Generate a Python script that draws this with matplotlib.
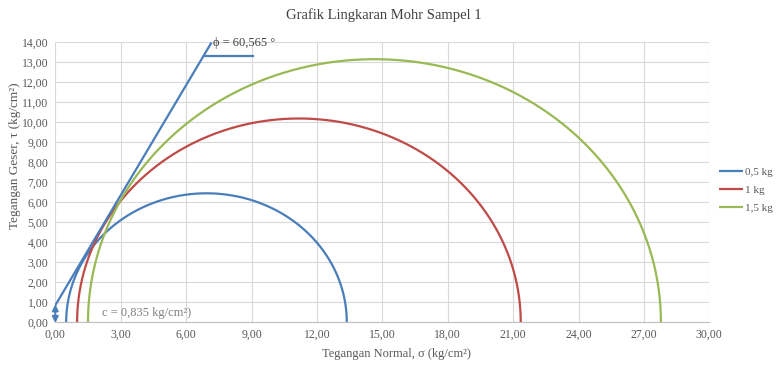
import numpy as np
import matplotlib
matplotlib.use("Agg")
import matplotlib.pyplot as plt
from matplotlib.ticker import FuncFormatter

# ---- data ----
labels = ["0,5 kg", "1 kg", "1,5 kg"]
sigma3 = [0.5, 1.0, 1.5]
sigma1 = [13.37, 21.35, 27.78]
colors = ["#4A7EBB", "#BE4B48", "#98B954"]
cohesion = 0.835
envelope_x = [0.0, 7.14]
envelope_y = [0.835, 13.93]
angle_x = [6.80, 9.06]
angle_y = [13.3, 13.3]
phi_text = "ϕ = 60,565 °"
c_text = "c = 0,835 kg/cm²)"
xticks = np.arange(0, 31, 3)
yticks = np.arange(0, 15, 1)

W, H = 780, 365
fig = plt.figure(figsize=(W / 100, H / 100), dpi=100)
plt.rcParams['font.family'] = ['Liberation Serif', 'DejaVu Serif']

x0, x1 = 55.3, 709.3
y0, y1 = 322, 42
ax = fig.add_axes([x0 / W, 1 - y0 / H, (x1 - x0) / W, (y0 - y1) / H])

t = np.linspace(0, np.pi, 400)
for s3, s1, col, lab in zip(sigma3, sigma1, colors, labels):
    c = (s1 + s3) / 2
    r = (s1 - s3) / 2
    ax.plot(c + r * np.cos(t), r * np.sin(t), color=col, lw=1.6, label=lab,
            solid_capstyle="butt")

ax.plot(envelope_x, envelope_y, color=colors[0], lw=1.6)
ax.plot(angle_x, angle_y, color=colors[0], lw=1.6)
ax.annotate("", xy=(0.0, -0.05), xytext=(0.0, cohesion + 0.05),
            arrowprops=dict(arrowstyle="<|-|>", color=colors[0], lw=1.4,
                            mutation_scale=9, shrinkA=0, shrinkB=0),
            annotation_clip=False)

ax.text(7.25, 13.95, phi_text, fontsize=9, color="#404040", va="center", ha="left")
ax.text(2.12, 0.45, c_text, fontsize=9, color="#7f7f7f", va="center", ha="left")

ax.set_xlim(0, 30)
ax.set_ylim(0, 14)
ax.set_xticks(xticks)
ax.set_yticks(yticks)
fmt = FuncFormatter(lambda v, p: f"{v:.2f}".replace(".", ","))
ax.xaxis.set_major_formatter(fmt)
ax.yaxis.set_major_formatter(fmt)
ax.tick_params(axis="both", length=0, labelsize=8.5, colors="#595959", pad=5)
ax.grid(True, color="#d9d9d9", lw=0.8)
ax.set_axisbelow(True)
for s in ["top", "right", "left"]:
    ax.spines[s].set_visible(False)
ax.spines["bottom"].set_color("#bfbfbf")

fig.text(384 / W, 1 - 15 / H, "Grafik Lingkaran Mohr Sampel 1", ha="center",
         va="center", fontsize=10.5, color="#404040")
fig.text(396 / W, 1 - 354 / H, "Tegangan Normal, σ (kg/cm²)", ha="center",
         va="center", fontsize=9, color="#595959")
fig.text(15 / W, 1 - 156 / H, "Tegangan Geser, τ (kg/cm²)", ha="center",
         va="center", fontsize=9.5, color="#595959", rotation=90)

fig.legend(loc="upper left", bbox_to_anchor=(719 / W, 1 - 167 / H),
           frameon=False, fontsize=8, handlelength=2.2, handletextpad=0.15,
           labelspacing=0.75, borderpad=0, borderaxespad=0,
           labelcolor="#595959")

fig.savefig("out.png", dpi=100)
